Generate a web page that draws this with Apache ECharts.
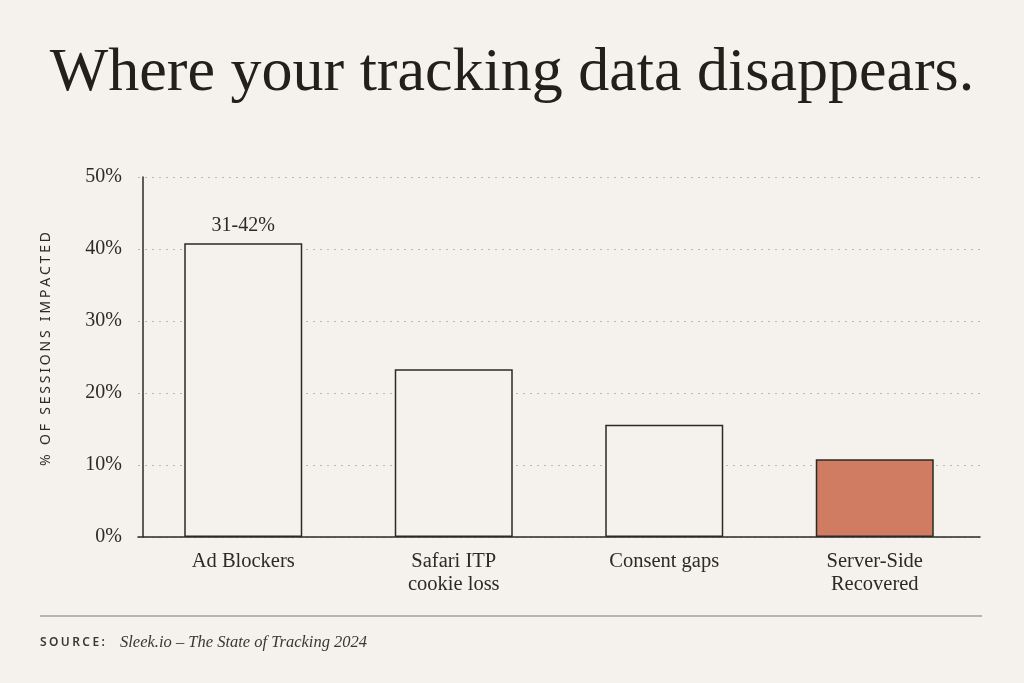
<!DOCTYPE html>
<html>
<head>
<meta charset="utf-8">
<script src="https://cdn.jsdelivr.net/npm/echarts@6/dist/echarts.min.js"></script>
<style>
  html, body { margin: 0; padding: 0; background: #f5f2ed; }
  #chart { width: 1024px; height: 683px; }
</style>
</head>
<body>
<div id="chart"></div>
<script>
// data
var categories = ['Ad Blockers', 'Safari ITP\ncookie loss', 'Consent gaps', 'Server-Side\nRecovered'];
var sessionsImpacted = [40.8, 23.3, 15.6, 10.8];
var barLabels = ['31-42%', '', '', ''];
var barFills = ['#f5f2ed', '#f5f2ed', '#f5f2ed', '#d07c62'];
var yTicks = [0, 10, 20, 30, 40, 50];

var serif = '"Liberation Serif", "DejaVu Serif", serif';
var sans = '"Noto Sans", "DejaVu Sans", sans-serif';

// no letterSpacing in canvas text, so pad with hair spaces
function spaced(s, n) {
    var gap = new Array(n + 1).join('\u200a');
    return s.split('').join(gap);
}

var chart = echarts.init(document.getElementById('chart'));
var option = {
    backgroundColor: '#f5f2ed',
    animation: false,
    title: {
        text: 'Where your tracking data disappears.',
        left: 'center',
        top: 38,
        textStyle: {
            fontFamily: serif,
            fontWeight: 'normal',
            fontSize: 62,
            color: '#222019'
        }
    },
    grid: {
        left: 138,
        right: 44,
        top: 177,
        bottom: 146
    },
    xAxis: {
        type: 'category',
        data: categories,
        axisLine: { lineStyle: { color: '#2b2a27', width: 1.5 } },
        axisTick: { show: false },
        axisLabel: {
            margin: 13,
            fontFamily: serif,
            fontSize: 20.5,
            lineHeight: 23,
            color: '#2b2a27'
        }
    },
    yAxis: {
        type: 'value',
        min: 0,
        max: 50,
        interval: 10,
        offset: -5,
        axisLine: { show: true, lineStyle: { color: '#2b2a27', width: 1.5 } },
        axisTick: { show: false },
        splitLine: { lineStyle: { color: '#bdb9b1', type: [2, 5], width: 1 } },
        axisLabel: {
            margin: 21,
            fontFamily: serif,
            fontSize: 20,
            color: '#2b2a27',
            formatter: function (v) { return yTicks.indexOf(v) >= 0 ? v + '%' : ''; }
        }
    },
    series: [{
        type: 'bar',
        barWidth: 118,
        data: sessionsImpacted.map(function (v, i) {
            return {
                value: v,
                itemStyle: { color: barFills[i] },
                label: {
                    show: barLabels[i] !== '',
                    formatter: barLabels[i]
                }
            };
        }),
        itemStyle: { borderColor: '#2b2a27', borderWidth: 1.5 },
        label: {
            position: 'top',
            distance: 7,
            fontFamily: serif,
            fontSize: 20,
            color: '#2b2a27'
        }
    }],
    graphic: [
        {
            type: 'text',
            x: 46,
            y: 349,
            rotation: Math.PI / 2,
            style: {
                text: spaced('% OF SESSIONS IMPACTED', 2),
                fontFamily: sans,
                fontSize: 14,
                fill: '#2b2a27',
                align: 'center',
                verticalAlign: 'middle'
            }
        },
        {
            type: 'line',
            shape: { x1: 40, y1: 616, x2: 982, y2: 616 },
            style: { stroke: '#7d7973', lineWidth: 1.2 }
        },
        {
            type: 'text',
            x: 40,
            y: 643,
            style: {
                text: spaced('SOURCE:', 2),
                fontFamily: sans,
                fontSize: 12,
                fontWeight: 600,
                fill: '#3a3833',
                verticalAlign: 'middle'
            }
        },
        {
            type: 'text',
            x: 120,
            y: 643,
            style: {
                text: 'Sleek.io \u2013 The State of Tracking 2024',
                fontFamily: serif,
                fontStyle: 'italic',
                fontSize: 16.5,
                fill: '#3a3833',
                verticalAlign: 'middle'
            }
        }
    ]
};
chart.setOption(option);
</script>
</body>
</html>
